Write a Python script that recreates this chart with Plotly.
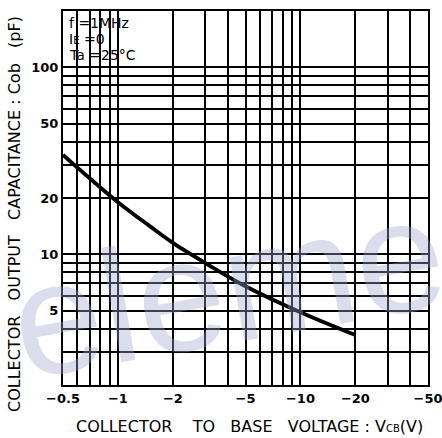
import plotly.graph_objects as go

# Collector-base voltage VCB (V) and collector output capacitance Cob (pF)
vcb = [-0.5, -0.7, -1.0, -1.5, -2.0, -3.0, -5.0, -10.0, -20.0]
cob = [34.0, 25.5, 19.0, 14.1, 11.5, 9.0, 6.75, 4.9, 3.7]

# Log grid lines (magnitude of VCB) and the ones that carry a label
x_grid = [0.5, 0.6, 0.7, 0.8, 0.9, 1, 2, 3, 4, 5, 6, 7, 8, 9, 10, 20, 30, 40, 50]
x_labeled = {0.5: "\u22120.5", 1: "\u22121", 2: "\u22122", 5: "\u22125",
             10: "\u221210", 20: "\u221220", 50: "\u221250"}
y_grid = [2, 3, 4, 5, 6, 7, 8, 9, 10, 20, 30, 40, 50, 60, 70, 80, 90, 100, 200]
y_labeled = {5: "5", 10: "10", 20: "20", 50: "50", 100: "100"}

small = "<span style='font-size:10px'>{}</span>"
conditions = ["f =1MHz", "I" + small.format("E") + " =0", "Ta =25\u00b0C"]

W, H = 442, 438
L, R, T, B = 63, 14, 11, 53
PW, PH = W - L - R, H - T - B


def px_x(px):
    return (px - L) / PW


def px_y(py):
    return (H - B - py) / PH


fig = go.Figure()
fig.add_trace(go.Scatter(
    x=[-v for v in vcb], y=cob, mode="lines",
    line=dict(color="black", width=3.8, shape="spline"),
    hoverinfo="skip", showlegend=False,
))

axis_common = dict(
    type="log", showline=True, linecolor="black", linewidth=2.2, mirror=True,
    showgrid=True, gridcolor="black", gridwidth=1.8, zeroline=False, ticks="",
    tickfont=dict(family="DejaVu Sans", size=13, color="black", weight="bold"),
    ticklabeloverflow="allow", automargin=False,
)

fig.update_xaxes(
    **axis_common,
    range=[-0.30103, 1.69897],
    tickmode="array", tickvals=x_grid,
    ticktext=[x_labeled.get(v, "") for v in x_grid],
)
fig.update_yaxes(
    **axis_common,
    range=[0.30103, 2.30103],
    tickmode="array", tickvals=y_grid,
    ticktext=[y_labeled.get(v, "") for v in y_grid],
)

annotations = []
# faint background lettering
annotations.append(dict(
    text="element", xref="paper", yref="paper", x=px_x(293), y=px_y(275),
    xanchor="center", yanchor="middle", showarrow=False, textangle=-10,
    font=dict(family="Liberation Sans", size=160, color="rgba(160,165,205,0.38)"),
))
for i, line in enumerate(conditions):
    annotations.append(dict(
        text=line, xref="paper", yref="paper", x=px_x(67), y=px_y(23 + 16 * i),
        xanchor="left", yanchor="middle", showarrow=False,
        font=dict(family="DejaVu Sans", size=14, color="black"),
    ))
annotations.append(dict(
    text="COLLECTOR    TO   BASE   VOLTAGE : V" + small.format("CB") + "(V)",
    xref="paper", yref="paper", x=px_x(249), y=px_y(426),
    xanchor="center", yanchor="middle", showarrow=False,
    font=dict(family="DejaVu Sans", size=16, color="black"),
))
annotations.append(dict(
    text="COLLECTOR   OUTPUT   CAPACITANCE : Cob   (pF)",
    xref="paper", yref="paper", x=px_x(15), y=px_y(214),
    xanchor="center", yanchor="middle", showarrow=False, textangle=-90,
    font=dict(family="DejaVu Sans", size=16, color="black"),
))

fig.update_layout(
    width=W, height=H,
    margin=dict(l=L, r=R, t=T, b=B, pad=0, autoexpand=False),
    paper_bgcolor="white", plot_bgcolor="white",
    showlegend=False,
    annotations=annotations,
)

fig.write_html("out.html")
